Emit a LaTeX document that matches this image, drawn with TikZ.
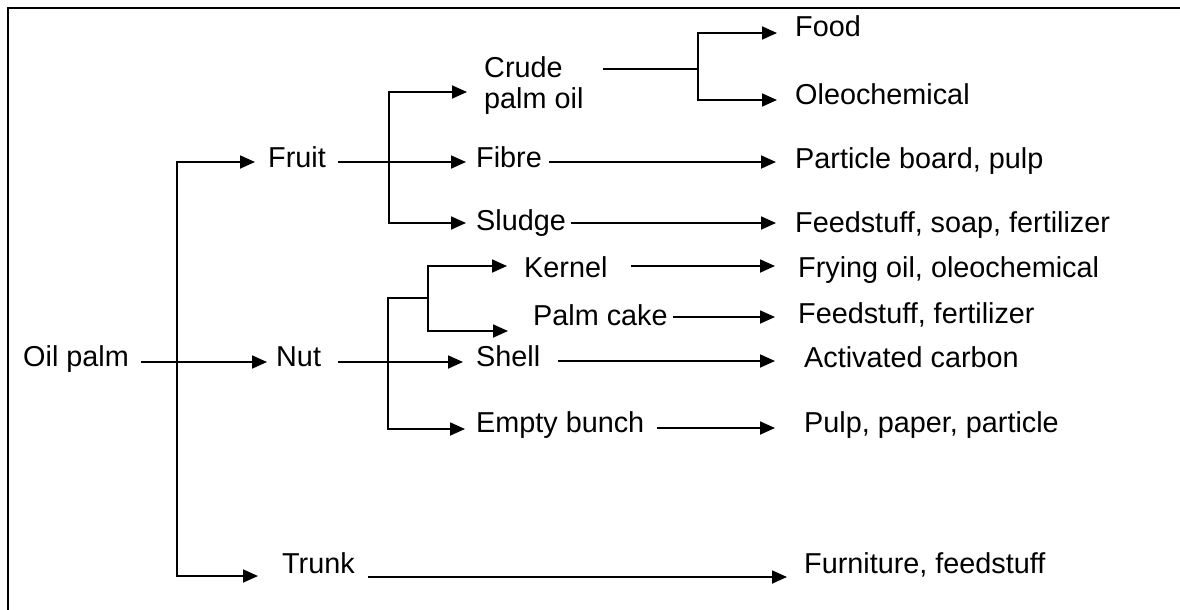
\documentclass[tikz,border=0pt]{standalone}
\usepackage{fontspec}
\setmainfont{Liberation Sans}
\usetikzlibrary{arrows.meta}
\begin{document}
\begin{tikzpicture}[x=1pt,y=-1pt,
  lbl/.style={inner sep=0pt,anchor=base west,font=\fontsize{28.8}{31}\selectfont},
  conn/.style={line width=1.8pt},
  arr/.style={conn,-{Triangle[length=15pt,width=13pt]}},
  barr/.style={conn,{Triangle[length=15pt,width=13pt]}-{Triangle[length=15pt,width=13pt]}},
  rarr/.style={conn,{Triangle[length=15pt,width=13pt]}-},
  frame/.style={line width=2.7pt}]
\fill[white] (0,0) rectangle (1180,610);
\useasboundingbox (0,0) rectangle (1180,610);
\begin{scope}
\clip (0,0) rectangle (1180,610);
\draw[frame] (8,625) -- (8,8) -- (1195,8);
\end{scope}

% text nodes
\node[lbl] (food) at (795,37) {Food};
\node[lbl,anchor=west,align=left] (crude) at (484,86) {Crude\\palm oil};
\node[lbl] (oleo) at (795,104) {Oleochemical};
\node[lbl] (fruit) at (268,167) {Fruit};
\node[lbl] (fibre) at (476,167) {Fibre};
\node[lbl] (particle) at (795,168) {Particle board, pulp};
\node[lbl] (sludge) at (476,230) {Sludge};
\node[lbl] (feedA) at (795,232) {Feedstuff, soap, fertilizer};
\node[lbl] (kernel) at (524,277) {Kernel};
\node[lbl] (frying) at (798,277) {Frying oil, oleochemical};
\node[lbl] (palmcake) at (533,325) {Palm cake};
\node[lbl] (feedB) at (798,323) {Feedstuff, fertilizer};
\node[lbl] (oilpalm) at (23,366) {Oil palm};
\node[lbl] (nut) at (276,366) {Nut};
\node[lbl] (shell) at (476,366) {Shell};
\node[lbl] (activated) at (804,367) {Activated carbon};
\node[lbl] (empty) at (476,432) {Empty bunch};
\node[lbl] (pulp) at (804,432) {Pulp, paper, particle};
\node[lbl] (trunk) at (282,573) {Trunk};
\node[lbl] (furniture) at (804,573) {Furniture, feedstuff};

% junctions and row levels
\coordinate (jA) at (177,162);
\coordinate (jB) at (177,576);
\coordinate (rOil) at (0,362);
\coordinate (rFruit) at (0,162);
\coordinate (jF1) at (389,92);
\coordinate (jF2) at (389,223);
\coordinate (jC) at (698,69);
\coordinate (jC1) at (698,33);
\coordinate (jC2) at (698,100);
\coordinate (jN1) at (388,298);
\coordinate (jN2) at (388,429);
\coordinate (jK) at (428,298);
\coordinate (jK1) at (428,266);
\coordinate (jK2) at (428,331);
\coordinate (rCake) at (0,317);
\coordinate (rShell) at (0,361);
\coordinate (rEmpty) at (0,428);
\coordinate (rTrunk) at (0,577);

% connectors
\draw[barr] ([xshift=-13pt]fruit.west |- jA) -- (jA) -- (jB) -- ([xshift=-24pt]trunk.west |- jB);
\draw[arr] ([xshift=12pt]oilpalm.east |- rOil) -- ([xshift=-9pt]nut.west |- rOil);
\draw[arr] ([xshift=12pt]fruit.east |- rFruit) -- ([xshift=-10pt]fibre.west |- rFruit);
\draw[barr] ([xshift=-17pt]crude.west |- jF1) -- (jF1) -- (jF2) -- ([xshift=-10pt]sludge.west |- jF2);
\draw[conn] ([xshift=19pt]crude.east |- jC) -- (jC);
\draw[barr] ([xshift=-18pt]food.west |- jC1) -- (jC1) -- (jC2) -- ([xshift=-18pt]oleo.west |- jC2);
\draw[arr] ([xshift=7pt]fibre.east |- rFruit) -- ([xshift=-19pt]particle.west |- rFruit);
\draw[arr] ([xshift=5pt]sludge.east |- jF2) -- ([xshift=-19pt]feedA.west |- jF2);
\draw[arr] ([xshift=23pt]kernel.east |- jK1) -- ([xshift=-23pt]frying.west |- jK1);
\draw[arr] ([xshift=17pt]nut.east |- rOil) -- ([xshift=-13pt]shell.west |- rOil);
\draw[rarr] ([xshift=-11pt]empty.west |- jN2) -- (jN2) -- (jN1) -- (jK);
\draw[barr] ([xshift=-17pt]kernel.west |- jK1) -- (jK1) -- (jK2) -- ([xshift=-25pt]palmcake.west |- jK2);
\draw[arr] ([xshift=5pt]palmcake.east |- rCake) -- ([xshift=-23pt]feedB.west |- rCake);
\draw[arr] ([xshift=18pt]shell.east |- rShell) -- ([xshift=-29pt]activated.west |- rShell);
\draw[arr] ([xshift=13pt]empty.east |- rEmpty) -- ([xshift=-29pt]pulp.west |- rEmpty);
\draw[arr] ([xshift=13pt]trunk.east |- rTrunk) -- ([xshift=-17pt]furniture.west |- rTrunk);
\end{tikzpicture}
\end{document}
